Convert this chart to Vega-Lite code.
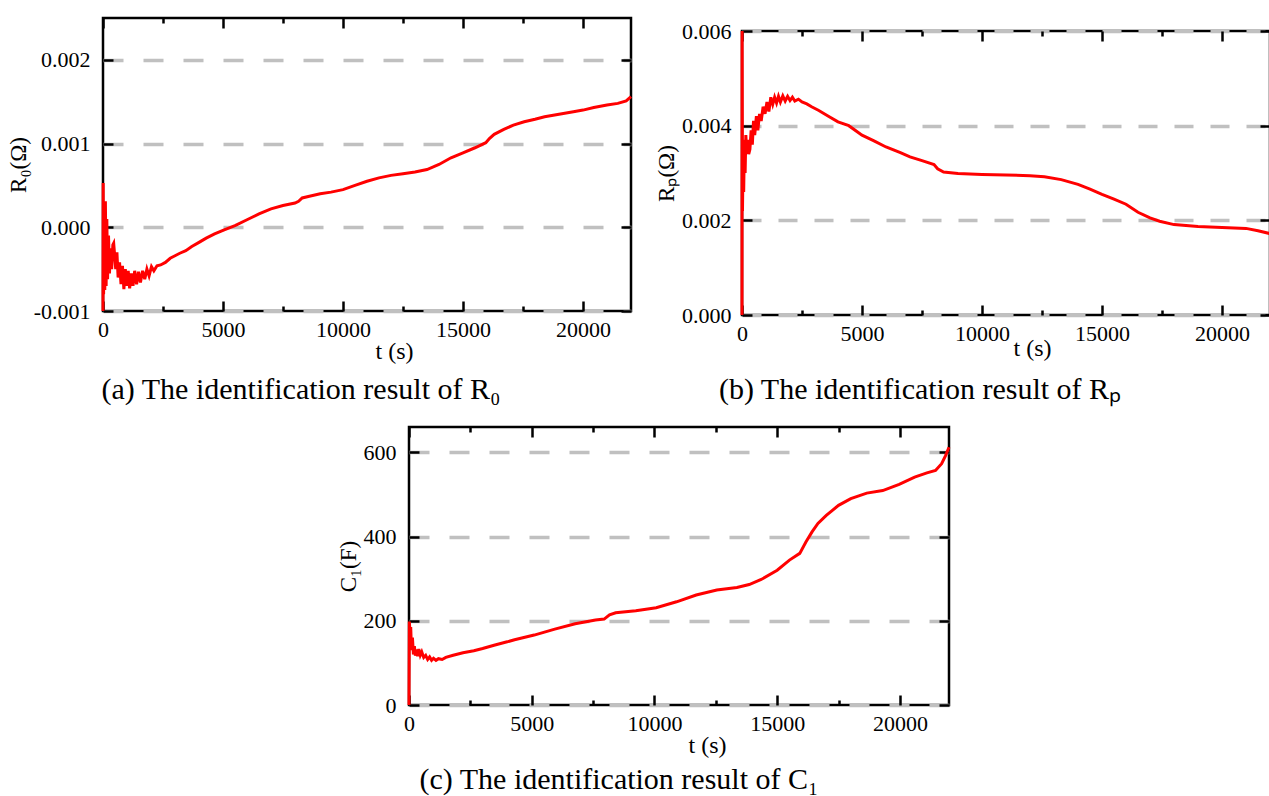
{
  "$schema": "https://vega.github.io/schema/vega-lite/v6.json",
  "background": "white",
  "padding": {"left": 5, "top": 15, "right": 0, "bottom": 0},
  "config": {
    "font": "Liberation Serif",
    "view": {"stroke": "black", "strokeWidth": 2.5},
    "axis": {
      "labelFont": "Liberation Serif", "labelFontSize": 22, "labelColor": "black",
      "titleFont": "Liberation Serif", "titleFontSize": 24, "titleFontWeight": "normal", "titleColor": "black",
      "domain": false, "tickColor": "black", "tickWidth": 2.5, "grid": false, "labelOverlap": false, "labelFlush": false
    },
    "title": {"font": "Liberation Serif", "fontSize": 30, "fontWeight": "normal", "color": "black"}
  },
  "datasets": {
    "a": [
      {"t":0,"v":-0.001},{"t":8,"v":0.00053},{"t":25,"v":-0.0008},{"t":50,"v":0.0003},{"t":75,"v":-0.00075},{"t":100,"v":0.00031},{"t":130,"v":-0.0007},{"t":160,"v":0.0001},{"t":190,"v":-0.00062},{"t":230,"v":-0.0001},{"t":270,"v":-0.00055},{"t":310,"v":-0.00025},{"t":360,"v":-0.0005},{"t":410,"v":-0.00021},{"t":445,"v":-0.00019},{"t":490,"v":-0.00035},{"t":530,"v":-0.0005},{"t":580,"v":-0.0003},{"t":630,"v":-0.0006},{"t":690,"v":-0.00042},{"t":750,"v":-0.00068},{"t":810,"v":-0.00046},{"t":870,"v":-0.00074},{"t":930,"v":-0.0005},{"t":990,"v":-0.0007},{"t":1050,"v":-0.00052},{"t":1110,"v":-0.00073},{"t":1180,"v":-0.00055},{"t":1250,"v":-0.0007},{"t":1320,"v":-0.00052},{"t":1400,"v":-0.00068},{"t":1480,"v":-0.00053},{"t":1560,"v":-0.00066},{"t":1650,"v":-0.00052},{"t":1740,"v":-0.00062},{"t":1830,"v":-0.0005},{"t":1920,"v":-0.00058},{"t":2020,"v":-0.00047},{"t":2120,"v":-0.00052},{"t":2250,"v":-0.00046},{"t":2400,"v":-0.00045},{"t":2600,"v":-0.00042},{"t":2800,"v":-0.00037},{"t":3000,"v":-0.00034},{"t":3200,"v":-0.00031},{"t":3450,"v":-0.00028},{"t":3700,"v":-0.00023},{"t":4000,"v":-0.00018},{"t":4300,"v":-0.00013},{"t":4650,"v":-0.00008},{"t":5050,"v":-0.00003},{"t":5500,"v":0.00002},{"t":6000,"v":0.00009},{"t":6500,"v":0.00016},{"t":7000,"v":0.00022},{"t":7500,"v":0.00026},{"t":8000,"v":0.00029},{"t":8150,"v":0.00031},{"t":8300,"v":0.00035},{"t":8600,"v":0.00037},{"t":9050,"v":0.0004},{"t":9500,"v":0.00042},{"t":10000,"v":0.00045},{"t":10500,"v":0.0005},{"t":11000,"v":0.00055},{"t":11500,"v":0.00059},{"t":12000,"v":0.00062},{"t":12500,"v":0.00064},{"t":13000,"v":0.00066},{"t":13500,"v":0.00069},{"t":14000,"v":0.00075},{"t":14500,"v":0.00083},{"t":15000,"v":0.00089},{"t":15500,"v":0.00095},{"t":15950,"v":0.00101},{"t":16100,"v":0.00106},{"t":16300,"v":0.00111},{"t":16700,"v":0.00117},{"t":17100,"v":0.00122},{"t":17550,"v":0.00126},{"t":18000,"v":0.00129},{"t":18400,"v":0.00132},{"t":19000,"v":0.00135},{"t":19600,"v":0.00138},{"t":20000,"v":0.0014},{"t":20450,"v":0.00143},{"t":21000,"v":0.00146},{"t":21450,"v":0.00148},{"t":21800,"v":0.00151},{"t":22000,"v":0.00156}
    ],
    "b": [
      {"t":0,"v":0},{"t":5,"v":0.006},{"t":20,"v":0.0022},{"t":45,"v":0.0033},{"t":70,"v":0.0026},{"t":100,"v":0.0037},{"t":130,"v":0.003},{"t":160,"v":0.0038},{"t":200,"v":0.0034},{"t":240,"v":0.0037},{"t":280,"v":0.0034},{"t":330,"v":0.0035},{"t":380,"v":0.0039},{"t":430,"v":0.0036},{"t":480,"v":0.0041},{"t":530,"v":0.0038},{"t":600,"v":0.0042},{"t":660,"v":0.0039},{"t":730,"v":0.00425},{"t":800,"v":0.0041},{"t":880,"v":0.0044},{"t":960,"v":0.00425},{"t":1040,"v":0.0045},{"t":1120,"v":0.0043},{"t":1200,"v":0.0046},{"t":1280,"v":0.00445},{"t":1360,"v":0.0046},{"t":1440,"v":0.00448},{"t":1520,"v":0.00462},{"t":1600,"v":0.0045},{"t":1700,"v":0.00463},{"t":1800,"v":0.00452},{"t":1900,"v":0.00462},{"t":2000,"v":0.00453},{"t":2100,"v":0.0046},{"t":2200,"v":0.00452},{"t":2350,"v":0.00456},{"t":2500,"v":0.0045},{"t":2700,"v":0.00446},{"t":2900,"v":0.0044},{"t":3200,"v":0.00432},{"t":3600,"v":0.0042},{"t":4000,"v":0.00408},{"t":4450,"v":0.004},{"t":5000,"v":0.0038},{"t":5500,"v":0.00368},{"t":6000,"v":0.00355},{"t":6600,"v":0.00343},{"t":7000,"v":0.00334},{"t":7500,"v":0.00326},{"t":8000,"v":0.00318},{"t":8150,"v":0.00309},{"t":8400,"v":0.00302},{"t":9000,"v":0.00299},{"t":10000,"v":0.00297},{"t":11000,"v":0.00296},{"t":12000,"v":0.00294},{"t":12600,"v":0.00292},{"t":13300,"v":0.00286},{"t":14000,"v":0.00276},{"t":14500,"v":0.00266},{"t":15000,"v":0.00255},{"t":15500,"v":0.00245},{"t":16000,"v":0.00234},{"t":16500,"v":0.00217},{"t":17000,"v":0.00205},{"t":17400,"v":0.00198},{"t":18000,"v":0.00191},{"t":19000,"v":0.00187},{"t":20000,"v":0.00185},{"t":21000,"v":0.00183},{"t":21500,"v":0.00178},{"t":22000,"v":0.00172}
    ],
    "c": [
      {"t":0,"v":0},{"t":15,"v":198},{"t":40,"v":170},{"t":70,"v":185},{"t":100,"v":130},{"t":140,"v":160},{"t":180,"v":120},{"t":220,"v":140},{"t":260,"v":117},{"t":300,"v":132},{"t":350,"v":116},{"t":400,"v":133},{"t":460,"v":118},{"t":520,"v":126},{"t":600,"v":113},{"t":680,"v":118},{"t":760,"v":108},{"t":840,"v":114},{"t":920,"v":106},{"t":1000,"v":111},{"t":1100,"v":106},{"t":1200,"v":110},{"t":1350,"v":108},{"t":1500,"v":113},{"t":1800,"v":118},{"t":2200,"v":124},{"t":2640,"v":129},{"t":3000,"v":134},{"t":3465,"v":142},{"t":4000,"v":150},{"t":4300,"v":155},{"t":5100,"v":166},{"t":5940,"v":180},{"t":6770,"v":193},{"t":7600,"v":202},{"t":7950,"v":204},{"t":8170,"v":214},{"t":8420,"v":219},{"t":9240,"v":224},{"t":10070,"v":231},{"t":10900,"v":245},{"t":11700,"v":261},{"t":12540,"v":273},{"t":13360,"v":279},{"t":13860,"v":286},{"t":14350,"v":298},{"t":15000,"v":320},{"t":15500,"v":344},{"t":15920,"v":360},{"t":16170,"v":387},{"t":16420,"v":411},{"t":16660,"v":431},{"t":17000,"v":450},{"t":17500,"v":474},{"t":18000,"v":490},{"t":18650,"v":503},{"t":19300,"v":509},{"t":19970,"v":524},{"t":20600,"v":541},{"t":21100,"v":551},{"t":21450,"v":557},{"t":21700,"v":573},{"t":21860,"v":592},{"t":22000,"v":612}
    ]
  },
  "bounds": "full",
  "spacing": 17,
  "vconcat": [
    {
      "bounds": "flush",
      "spacing": 111,
      "hconcat": [
        {
          "width": 528, "height": 293,
          "data": {"name": "a"},
          "title": {"text": "(a) The identification result of R₀", "orient": "bottom", "anchor": "middle", "dx": -66, "offset": 12},
          "layer": [
            {
              "mark": {"type": "line", "opacity": 0},
              "encoding": {
                "x": {"field": "t", "type": "quantitative", "scale": {"domain": [0, 22000], "nice": false, "zero": false},
                  "axis": {"orient": "top", "values": [0,2500,5000,7500,10000,12500,15000,17500,20000], "labels": false, "title": null, "grid": false,
                    "tickSize": {"condition": {"test": "datum.value % 5000 === 0", "value": -10}, "value": -5}}},
                "y": {"field": "v", "type": "quantitative", "scale": {"domain": [-0.001, 0.0025], "nice": false, "zero": false},
                  "axis": {"orient": "right", "values": [-0.001, 0, 0.001, 0.002], "labels": false, "title": null, "grid": false, "tickSize": -10}}
              }
            },
            {
              "mark": {"type": "line", "color": "#ff0000", "strokeWidth": 3},
              "encoding": {
                "x": {"field": "t", "type": "quantitative", "scale": {"domain": [0, 22000], "nice": false, "zero": false},
                  "axis": {"orient": "bottom", "values": [0,2500,5000,7500,10000,12500,15000,17500,20000], "format": "d",
                    "labelExpr": "datum.value % 5000 === 0 ? datum.label : ''", "labelPadding": 18,
                    "title": "t (s)", "titleX": 291, "titleY": 40, "titleBaseline": "middle",
                    "tickSize": {"condition": {"test": "datum.value % 5000 === 0", "value": -10}, "value": -5}}},
                "y": {"field": "v", "type": "quantitative", "scale": {"domain": [-0.001, 0.0025], "nice": false, "zero": false},
                  "axis": {"orient": "left", "values": [-0.001, 0, 0.001, 0.002], "format": ".3f",
                    "labelExpr": "replace(datum.label, '−', '-')", "labelPadding": 23, "tickSize": -10,
                    "title": "R₀(Ω)", "titleFontSize": 23, "titlePadding": 3,
                    "grid": true, "gridDash": [20, 20], "gridColor": "#c0c0c0", "gridWidth": 3.5}}
              }
            }
          ],
          "resolve": {"axis": {"x": "independent", "y": "independent"}}
        },
        {
          "bounds": "flush",
          "spacing": 12,
          "vconcat": [
            {"width": 528, "height": 1, "data": {"values": []}, "mark": "point", "view": {"stroke": null, "fill": "white"}},
            {
              "width": 528, "height": 284,
              "data": {"name": "b"},
              "title": {"text": "(b) The identification result of Rₚ", "orient": "bottom", "anchor": "middle", "dx": -86, "offset": 15},
              "layer": [
                {
                  "mark": {"type": "line", "opacity": 0},
                  "encoding": {
                    "x": {"field": "t", "type": "quantitative", "scale": {"domain": [0, 22000], "nice": false, "zero": false},
                      "axis": {"orient": "top", "values": [0,2500,5000,7500,10000,12500,15000,17500,20000], "labels": false, "title": null, "grid": false,
                        "tickSize": {"condition": {"test": "datum.value % 5000 === 0", "value": -10}, "value": -5}}},
                    "y": {"field": "v", "type": "quantitative", "scale": {"domain": [0, 0.006], "nice": false, "zero": false},
                      "axis": {"orient": "right", "values": [0, 0.002, 0.004, 0.006], "labels": false, "title": null, "grid": false, "tickSize": -10}}
                  }
                },
                {
                  "mark": {"type": "line", "color": "#ff0000", "strokeWidth": 3},
                  "encoding": {
                    "x": {"field": "t", "type": "quantitative", "scale": {"domain": [0, 22000], "nice": false, "zero": false},
                      "axis": {"orient": "bottom", "values": [0,2500,5000,7500,10000,12500,15000,17500,20000], "format": "d",
                        "labelExpr": "datum.value % 5000 === 0 ? datum.label : ''", "labelPadding": 18,
                        "title": "t (s)", "titleX": 290, "titleY": 33, "titleBaseline": "middle",
                        "tickSize": {"condition": {"test": "datum.value % 5000 === 0", "value": -10}, "value": -5}}},
                    "y": {"field": "v", "type": "quantitative", "scale": {"domain": [0, 0.006], "nice": false, "zero": false},
                      "axis": {"orient": "left", "values": [0, 0.002, 0.004, 0.006], "format": ".3f", "labelPadding": 21, "tickSize": -10,
                        "title": "Rₚ(Ω)", "titleFontSize": 23, "titlePadding": 3,
                        "grid": true, "gridDash": [19, 17], "gridColor": "#c0c0c0", "gridWidth": 3.5}}
                  }
                }
              ],
              "resolve": {"axis": {"x": "independent", "y": "independent"}}
            }
          ]
        }
      ]
    },
    {
      "bounds": "flush",
      "spacing": 10,
      "hconcat": [
        {"width": 296, "height": 1, "data": {"values": []}, "mark": "point", "view": {"stroke": null, "fill": "white"}},
        {
          "width": 540, "height": 278,
          "data": {"name": "c"},
          "title": {"text": "(c) The identification result of C₁", "orient": "bottom", "anchor": "middle", "dx": -60, "offset": 8},
          "layer": [
            {
              "mark": {"type": "line", "opacity": 0},
              "encoding": {
                "x": {"field": "t", "type": "quantitative", "scale": {"domain": [0, 22000], "nice": false, "zero": false},
                  "axis": {"orient": "top", "values": [0,2500,5000,7500,10000,12500,15000,17500,20000], "labels": false, "title": null, "grid": false,
                    "tickSize": {"condition": {"test": "datum.value % 5000 === 0", "value": -10}, "value": -5}}},
                "y": {"field": "v", "type": "quantitative", "scale": {"domain": [0, 660], "nice": false, "zero": false},
                  "axis": {"orient": "right", "values": [0, 200, 400, 600], "labels": false, "title": null, "grid": false, "tickSize": -10}}
              }
            },
            {
              "mark": {"type": "line", "color": "#ff0000", "strokeWidth": 3},
              "encoding": {
                "x": {"field": "t", "type": "quantitative", "scale": {"domain": [0, 22000], "nice": false, "zero": false},
                  "axis": {"orient": "bottom", "values": [0,2500,5000,7500,10000,12500,15000,17500,20000], "format": "d",
                    "labelExpr": "datum.value % 5000 === 0 ? datum.label : ''", "labelPadding": 18,
                    "title": "t (s)", "titleX": 298, "titleY": 40, "titleBaseline": "middle",
                    "tickSize": {"condition": {"test": "datum.value % 5000 === 0", "value": -10}, "value": -5}}},
                "y": {"field": "v", "type": "quantitative", "scale": {"domain": [0, 660], "nice": false, "zero": false},
                  "axis": {"orient": "left", "values": [0, 200, 400, 600], "format": "d", "labelPadding": 23, "tickSize": -10,
                    "title": "C₁(F)", "titleFontSize": 23, "titlePadding": 3,
                    "grid": true, "gridDash": [20, 20], "gridColor": "#c0c0c0", "gridWidth": 3.5}}
              }
            }
          ],
          "resolve": {"axis": {"x": "independent", "y": "independent"}}
        }
      ]
    }
  ]
}
